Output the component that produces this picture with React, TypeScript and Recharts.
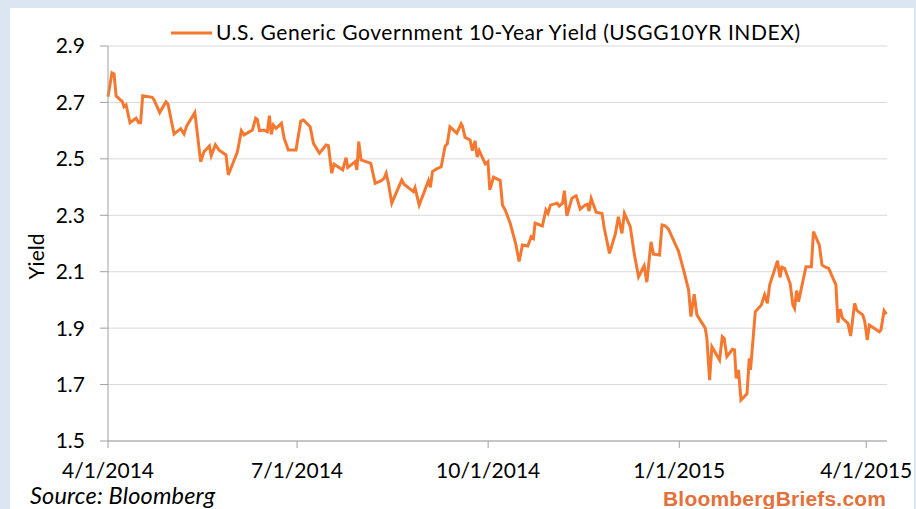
import React from 'react';
import { LineChart, Line, XAxis, YAxis, CartesianGrid } from 'recharts';

// Days elapsed since 4/1/2014
const dayOffsets = [
  0, 1.9, 2.9, 3.9, 6.9, 7.7, 8.7, 10.6, 13.5, 14.8, 15.7, 16.7, 21.3, 22.2, 24.9, 27.9, 28.9, 31.8, 35.0, 36.6, 37.9, 41.8, 44.6, 46.2, 48.8, 49.7, 51.7, 53.5, 56.8, 57.9, 62.3, 64.2, 65.5, 69.5, 71.1, 71.9, 72.9, 75.1,
  76.7, 77.7, 78.6, 79.6, 80.9, 83.5, 84.8, 86.8, 90.5, 92.8, 94.1, 97.3, 98.9, 101.8, 105.0, 106.1, 107.7, 108.8, 113.0, 114.6, 115.4, 119.0, 119.8, 120.7, 121.8, 124.2, 126.5, 128.6, 131.3, 132.9, 133.9, 135.0, 136.6, 139.0, 141.4, 142.5, 147.0, 147.8, 149.8,
  154.3, 155.2, 156.2, 157.8, 160.4, 162.3, 163.3, 164.6, 167.9, 170.0, 170.6, 171.9, 174.3, 175.4, 176.7, 177.7, 178.7, 181.6, 182.9, 183.8, 185.6, 188.8, 189.9, 191.2, 193.6, 196.3, 197.9, 199.5, 202.1, 203.7, 204.8, 205.6, 209.1, 210.8, 211.8, 213.0, 216.2, 217.2, 218.8, 219.7, 220.9, 223.3, 224.9,
  225.4, 227.3, 229.7, 230.8, 231.6, 232.6, 235.0, 237.8, 238.9, 241.4, 244.2, 245.7, 247.4, 248.6, 251.4, 253.3, 255.4, 258.1, 259.4, 261.4, 262.6, 265.5, 266.7, 268.2, 269.8, 274.6, 277.1, 279.5, 280.6, 282.2, 283.5, 287.5, 288.3, 289.6, 290.7, 294.4, 295.7, 296.6, 297.9,
  300.6, 301.6, 302.4, 303.5, 304.7, 307.6, 308.7, 309.3, 311.6, 314.5, 316.1, 317.4, 318.5, 322.3, 323.5, 324.4, 325.7, 328.4, 329.7, 330.5, 331.5, 332.4, 336.0, 338.6, 339.6, 342.4, 343.7, 345.3, 346.9, 350.4, 351.4, 352.5, 353.6, 356.2, 357.5, 359.4, 360.6, 363.3, 364.3, 365.5, 366.5, 371.3, 372.1, 373.6, 374.7,
];

const yields = [
  2.720, 2.805, 2.801, 2.723, 2.703, 2.685, 2.691, 2.628, 2.644, 2.628, 2.628, 2.724, 2.718, 2.709, 2.664, 2.702, 2.694, 2.588, 2.607, 2.588, 2.617, 2.664, 2.490, 2.525, 2.546, 2.511, 2.550, 2.531, 2.514, 2.443, 2.525, 2.600, 2.585, 2.602, 2.644, 2.640, 2.600, 2.602,
  2.596, 2.653, 2.587, 2.620, 2.608, 2.626, 2.573, 2.531, 2.531, 2.634, 2.638, 2.614, 2.555, 2.520, 2.549, 2.547, 2.449, 2.481, 2.461, 2.504, 2.469, 2.490, 2.461, 2.561, 2.496, 2.490, 2.484, 2.413, 2.422, 2.431, 2.449, 2.413, 2.343, 2.384, 2.425, 2.410, 2.384, 2.398, 2.336,
  2.423, 2.399, 2.455, 2.463, 2.472, 2.546, 2.553, 2.614, 2.591, 2.624, 2.616, 2.576, 2.567, 2.529, 2.564, 2.506, 2.529, 2.482, 2.490, 2.390, 2.435, 2.423, 2.336, 2.319, 2.272, 2.198, 2.136, 2.195, 2.191, 2.224, 2.218, 2.272, 2.262, 2.319, 2.307, 2.336, 2.343, 2.333, 2.343, 2.387, 2.298, 2.360, 2.368,
  2.369, 2.322, 2.336, 2.339, 2.315, 2.360, 2.311, 2.306, 2.254, 2.165, 2.233, 2.295, 2.236, 2.307, 2.260, 2.165, 2.082, 2.121, 2.063, 2.206, 2.162, 2.159, 2.266, 2.263, 2.251, 2.173, 2.106, 2.035, 1.941, 2.020, 1.947, 1.900, 1.864, 1.716, 1.834, 1.787, 1.870, 1.864, 1.799,
  1.825, 1.823, 1.722, 1.752, 1.645, 1.667, 1.793, 1.752, 1.958, 1.982, 2.018, 1.988, 2.053, 2.139, 2.080, 2.116, 2.112, 2.057, 1.982, 1.970, 2.033, 1.994, 2.118, 2.118, 2.242, 2.195, 2.124, 2.116, 2.112, 2.053, 1.919, 1.967, 1.935, 1.917, 1.872, 1.988, 1.962, 1.947, 1.923, 1.858, 1.911, 1.887, 1.894, 1.962, 1.950,
];

const xTickDays = [0, 91, 183, 275, 365];
const xTickLabels = ['4/1/2014', '7/1/2014', '10/1/2014', '1/1/2015', '4/1/2015'];
const yTicks = [1.5, 1.7, 1.9, 2.1, 2.3, 2.5, 2.7, 2.9];
const seriesName = 'U.S. Generic Government 10-Year Yield (USGG10YR INDEX)';
const yAxisTitle = 'Yield';
const sourceText = 'Source: Bloomberg';
const brandText = 'BloombergBriefs.com';

const data = dayOffsets.map((d, i) => ({ day: d, yield: yields[i] }));

const FONT = 'Lato, "Open Sans", sans-serif';
const LINE_COLOR = '#F47830';
const AXIS_COLOR = '#a0a0a0';

const YLabel = (props: any) => {
  const vb = props.viewBox || {};
  const cx = vb.x + 27;
  const cy = vb.y + vb.height / 2 + 13;
  return (
    <text x={cx} y={cy} transform={`rotate(-90 ${cx} ${cy})`} textAnchor="middle" dominantBaseline="central"
      fontFamily={FONT} fontSize={21} fill="#000">{yAxisTitle}</text>
  );
};

export default function App() {
  return (
    <div style={{ position: 'absolute', left: 0, top: 0, width: 916, height: 509, background: '#dce6f2', overflow: 'hidden' }}>
      <div style={{ position: 'absolute', left: 10, top: 8, width: 904, height: 501, background: '#ffffff' }} />
      <div style={{ position: 'absolute', left: 0, top: 0 }}>
        <LineChart width={916} height={509} data={data} margin={{ top: 46, right: 29, bottom: 38, left: 8 }}>
          <CartesianGrid vertical={false} stroke="#d9d9d9" strokeWidth={1} />
          <XAxis
            type="number"
            dataKey="day"
            domain={[0, 375]}
            ticks={xTickDays}
            interval={0}
            tickFormatter={(v: number) => xTickLabels[xTickDays.indexOf(v)]}
            height={30}
            tickSize={7}
            tickMargin={15}
            axisLine={{ stroke: AXIS_COLOR }}
            tickLine={{ stroke: AXIS_COLOR }}
            tick={{ fill: '#000', fontSize: 21, fontFamily: FONT }}
          />
          <YAxis
            type="number"
            domain={[1.5, 2.9]}
            ticks={yTicks}
            interval={0}
            tickFormatter={(v: number) => v.toFixed(1)}
            width={100}
            tickSize={8}
            tickMargin={15}
            axisLine={{ stroke: AXIS_COLOR }}
            tickLine={{ stroke: AXIS_COLOR }}
            tick={{ fill: '#000', fontSize: 21, fontFamily: FONT }}
            label={<YLabel />}
          />
          <Line type="linear" dataKey="yield" name={seriesName} stroke={LINE_COLOR} strokeWidth={3} dot={false} isAnimationActive={false} />
        </LineChart>
      </div>
      <svg width={916} height={509} style={{ position: 'absolute', left: 0, top: 0, pointerEvents: 'none' }}>
        <line x1={171} y1={33} x2={212} y2={33} stroke={LINE_COLOR} strokeWidth={3} />
        <text x={216} y={39.5} fontFamily={FONT} fontSize={21} textLength={584} lengthAdjust="spacing" fill="#000">{seriesName}</text>
        <text x={30} y={504} fontFamily={FONT} fontStyle="italic" fontSize={23.5} textLength={185} lengthAdjust="spacing" fill="#000">{sourceText}</text>
        <text x={663} y={505.5} fontFamily='"Liberation Sans", Arial, sans-serif' fontWeight="bold" fontSize={21} textLength={223} lengthAdjust="spacing" fill="#E4703A">{brandText}</text>
      </svg>
    </div>
  );
}
